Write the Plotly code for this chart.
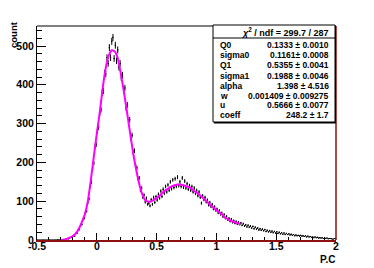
import numpy as np
import plotly.graph_objects as go

# ---------------- data ----------------
bin_lo = -0.5
bin_width = 0.01
counts = [
    0, 0, 0, 0, 0, 0, 0, 0, 0, 0,
    0, 0, 0, 0, 0, 0, 0, 1, 0, 1,
    0, 1, 2, 1, 3, 4, 3, 6, 7, 9,
    11, 10, 17, 18, 26, 27, 38, 40, 53, 56,
    70, 74, 97, 106, 138, 149, 186, 198, 240, 246,
    280, 290, 327, 336, 380, 384, 430, 428, 470, 455,
    496, 470, 512, 522, 468, 502, 462, 490, 445, 455,
    418, 425, 384, 392, 340, 348, 300, 310, 262, 270,
    226, 230, 190, 186, 158, 160, 128, 134, 110, 116,
    98, 108, 92, 95, 88, 104, 92, 110, 97, 112,
    103, 118, 108, 126, 112, 131, 120, 138, 124, 142,
    128, 150, 132, 155, 135, 158, 138, 162, 140, 150,
    138, 160, 136, 152, 134, 145, 131, 140, 128, 138,
    124, 134, 120, 128, 114, 124, 110, 95, 114, 104,
    110, 98, 103, 90, 97, 86, 92, 80, 86, 76,
    80, 70, 76, 66, 70, 60, 66, 56, 61, 52,
    56, 48, 54, 45, 50, 43, 48, 41, 46, 40,
    44, 38, 42, 36, 39, 34, 38, 33, 36, 31,
    35, 29, 33, 28, 31, 26, 29, 25, 28, 24,
    27, 22, 25, 21, 24, 20, 23, 19, 22, 18,
    21, 17, 20, 16, 19, 15, 18, 14, 17, 14,
    16, 13, 15, 12, 14, 11, 13, 11, 12, 10,
    12, 10, 11, 9, 11, 8, 10, 8, 9, 7,
    8, 6, 8, 6, 7, 5, 6, 5, 6, 4,
    5, 4, 5, 3, 4, 4, 3, 2, 4, 3,
]
error_scale = 0.4  # visual size of the per-bin error bars relative to sqrt(N)

fit_x = [-0.300, -0.275, -0.250, -0.225, -0.200, -0.175, -0.150, -0.125,
         -0.100, -0.075, -0.050, -0.025, 0.000, 0.025, 0.050, 0.075,
         0.100, 0.125, 0.150, 0.175, 0.200, 0.225, 0.250, 0.275,
         0.300, 0.325, 0.350, 0.375, 0.400, 0.425, 0.450, 0.475,
         0.500, 0.525, 0.550, 0.575, 0.600, 0.625, 0.650, 0.675,
         0.700, 0.725, 0.750, 0.775, 0.800, 0.825, 0.850, 0.875,
         0.900, 0.925, 0.950, 0.975, 1.000, 1.025, 1.050, 1.075,
         1.100, 1.125, 1.150, 1.175, 1.200]
fit_y = [0, 1, 3, 6, 10, 17, 29, 46,
         66, 100, 154, 215, 274, 330, 393, 444,
         475, 489, 486, 469, 430, 385, 335, 283,
         232, 188, 151, 122, 105, 99, 99, 103,
         108, 114, 122, 128, 133, 138, 141, 143,
         143, 141, 138, 136, 130, 124, 119, 112,
         105, 98, 90, 84, 77, 71, 65, 58,
         53, 49, 46, 44, 41]

x_ticks = [-0.5, 0, 0.5, 1, 1.5, 2]
x_tick_labels = ["-0.5", "0", "0.5", "1", "1.5", "2"]
y_ticks = [0, 100, 200, 300, 400, 500]
y_tick_labels = ["0", "100", "200", "300", "400", "500"]

stat_header = "<i>χ</i><sup>2</sup> / ndf = 299.7 / 287"
stat_names = ["Q0", "sigma0", "Q1", "sigma1", "alpha", "w", "u", "coeff"]
stat_values = ["0.1333 ± 0.0010", "0.1161± 0.0008", "0.5355 ± 0.0041",
               "0.1988 ± 0.0046", "1.398 ± 4.516", "0.001409 ± 0.009275",
               "0.5666 ± 0.0077", "248.2 ± 1.7"]

# ---------------- layout geometry ----------------
W, H = 374, 268
L, R, T, B = 37, 336, 26, 240
DARKRED = "#8c1010"
FONT = "Liberation Sans"


def px(xp):
    return (xp - L) / (R - L)


def py(yp):
    return (B - yp) / (B - T)


centers = [bin_lo + bin_width * (i + 0.5) for i in range(len(counts))]
errors = error_scale * np.sqrt(np.array(counts, dtype=float))

fig = go.Figure()
fig.add_trace(go.Scatter(
    x=centers, y=counts, mode="markers",
    marker=dict(size=1, color="black"),
    error_y=dict(type="data", array=errors, color="black", thickness=1, width=0),
    error_x=dict(type="constant", value=bin_width / 2, color="black", thickness=1, width=0),
    showlegend=False, hoverinfo="skip",
))
fig.add_trace(go.Scatter(
    x=fit_x, y=fit_y, mode="lines",
    line=dict(color="#ff00ff", width=2, shape="spline", smoothing=0.6),
    showlegend=False, hoverinfo="skip",
))

tickfont = dict(family=FONT, size=10.5, color="black", weight="bold")
fig.update_xaxes(
    range=[-0.5, 2], tickvals=x_ticks, ticktext=x_tick_labels,
    ticks="inside", ticklen=7, tickcolor="black", tickwidth=1,
    minor=dict(ticks="inside", dtick=0.1, tick0=-0.5, ticklen=3.5, tickcolor="black"),
    showline=True, linecolor=DARKRED, linewidth=1.5, mirror=False,
    showgrid=False, zeroline=False, tickfont=tickfont, automargin=False,
    ticklabelstandoff=-4,
)
fig.update_yaxes(
    range=[0, (B - T) / 0.388], tickvals=y_ticks, ticktext=y_tick_labels,
    ticks="inside", ticklen=9, tickcolor="black", tickwidth=1,
    minor=dict(ticks="inside", dtick=20, tick0=0, ticklen=4.5, tickcolor="black"),
    showline=True, linecolor="black", linewidth=1, mirror=False,
    showgrid=False, zeroline=False, tickfont=tickfont, automargin=False,
)

shapes = [
    dict(type="line", xref="paper", yref="paper", x0=0, x1=1, y0=1, y1=1,
         line=dict(color="black", width=1)),
    dict(type="line", xref="paper", yref="paper", x0=1, x1=1, y0=0, y1=1,
         line=dict(color=DARKRED, width=1.5)),
    # stats box shadow + box
    dict(type="rect", xref="paper", yref="paper",
         x0=px(214), x1=px(336), y0=py(123.5), y1=py(26),
         line=dict(width=0), fillcolor="black"),
    dict(type="rect", xref="paper", yref="paper",
         x0=px(213), x1=px(335), y0=py(122), y1=py(25),
         line=dict(color="black", width=1), fillcolor="white"),
    dict(type="line", xref="paper", yref="paper",
         x0=px(213), x1=px(335), y0=py(38), y1=py(38),
         line=dict(color="black", width=1)),
]

stat_font = dict(family=FONT, size=8.5, color="black", weight="bold")
annotations = [
    dict(text=stat_header, xref="paper", yref="paper", x=px(285), y=py(32),
         xanchor="center", yanchor="middle", showarrow=False,
         font=dict(family=FONT, size=9, color="black", weight="bold")),
    dict(text="count", xref="paper", yref="paper", x=px(14), y=py(35),
         xanchor="center", yanchor="middle", textangle=-90, showarrow=False,
         font=dict(family=FONT, size=9.5, color="black", weight="bold")),
    dict(text="P.C", xref="paper", yref="paper", x=px(337), y=py(259),
         xanchor="right", yanchor="middle", showarrow=False,
         font=dict(family=FONT, size=10, color="black", weight="bold")),
]
row_y = [44.7, 55, 65, 75.5, 85.5, 95.5, 105.3, 114.8]
for name, val, yy in zip(stat_names, stat_values, row_y):
    annotations.append(dict(text=name, xref="paper", yref="paper", x=px(218), y=py(yy),
                            xanchor="left", yanchor="middle", showarrow=False, font=stat_font))
    annotations.append(dict(text=val, xref="paper", yref="paper", x=px(331), y=py(yy),
                            xanchor="right", yanchor="middle", showarrow=False, font=stat_font))

fig.update_layout(
    width=W, height=H,
    margin=dict(l=L, r=W - R, t=T, b=H - B, pad=0),
    paper_bgcolor="white", plot_bgcolor="white",
    shapes=shapes, annotations=annotations,
)

fig.write_html(
    "out.html",
    config={"displayModeBar": False},
    post_script="document.body.style.margin='0';document.body.style.padding='0';",
)
